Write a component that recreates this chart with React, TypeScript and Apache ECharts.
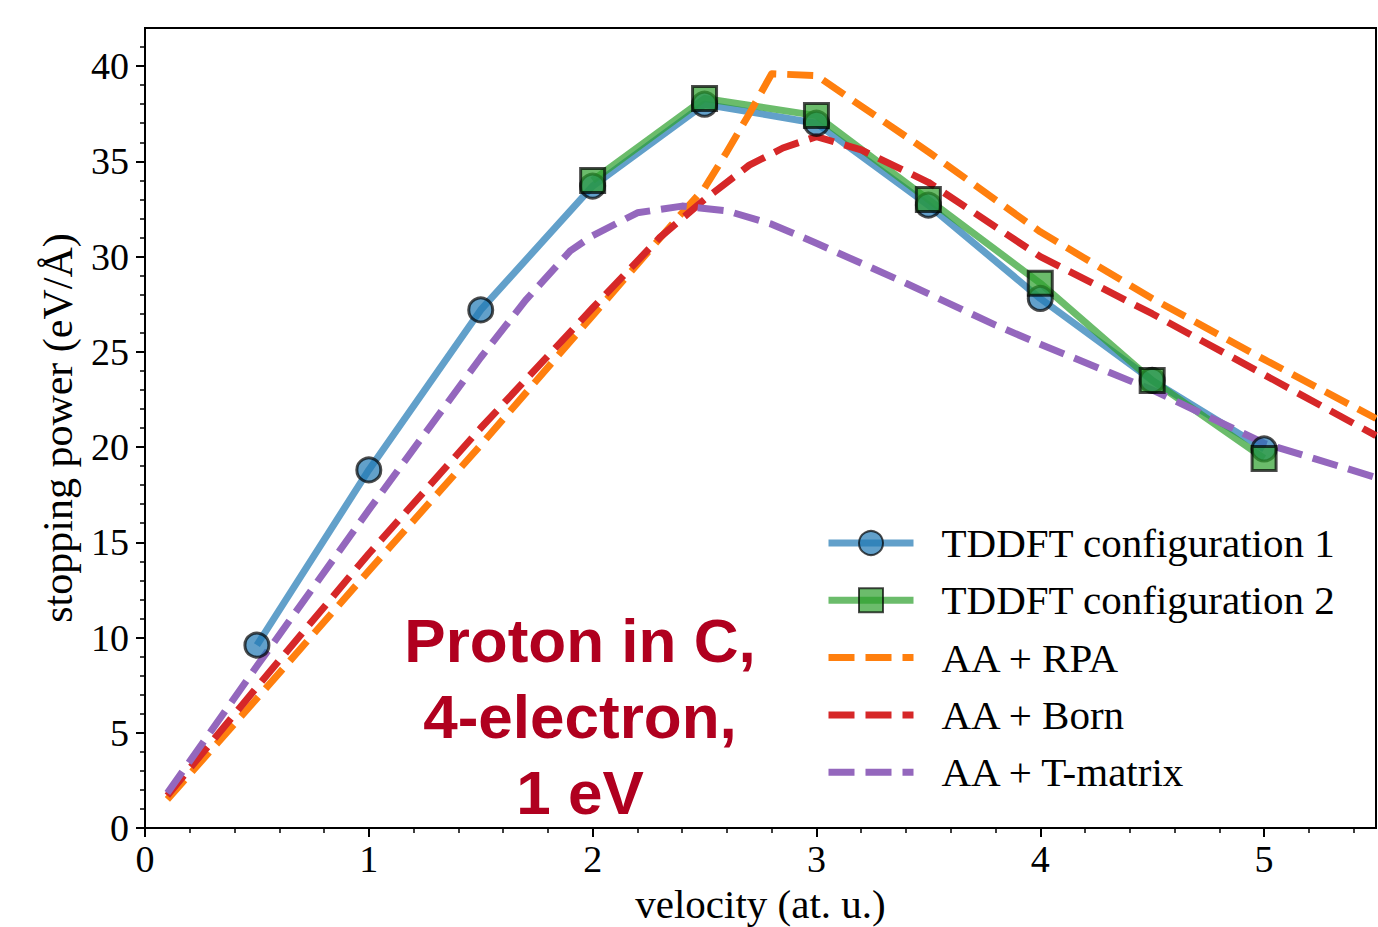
import React, { useEffect, useRef } from "react";
import * as echarts from "echarts";

// ---- data ----
const tddftV = [0.5, 1, 1.5, 2, 2.5, 3, 3.5, 4, 4.5, 5];
const tddft1 = [9.6, 18.8, 27.2, 33.7, 38.0, 37.0, 32.7, 27.8, 23.5, 19.9];
const tddft2V = [2, 2.5, 3, 3.5, 4, 4.5, 5];
const tddft2 = [34.0, 38.3, 37.4, 33.0, 28.6, 23.5, 19.4];
const rpaV = [0.1, 0.5, 1, 1.5, 2, 2.2, 2.4, 2.5, 2.6, 2.7, 2.8, 3.0, 3.5, 4.0, 4.5, 5.0, 5.5];
const rpa = [1.5, 6.8, 13.5, 20.1, 26.9, 29.6, 32.3, 33.6, 35.5, 37.5, 39.6, 39.5, 35.5, 31.3, 27.8, 24.6, 21.5];
const bornV = [0.1, 0.5, 1, 1.5, 2, 2.3, 2.5, 2.7, 2.85, 3.0, 3.2, 3.5, 4.0, 4.5, 5.0, 5.5];
const born = [1.7, 7.4, 14.4, 21.0, 27.3, 31.0, 33.0, 34.8, 35.7, 36.3, 35.6, 33.9, 30.0, 27.0, 23.8, 20.6];
const tmatV = [0.1, 0.5, 1, 1.5, 1.7, 1.9, 2.0, 2.2, 2.4, 2.6, 2.8, 3.0, 3.4, 3.8, 4.0, 4.5, 5.0, 5.5];
const tmat = [1.84, 8.5, 16.7, 24.7, 27.7, 30.3, 31.1, 32.3, 32.65, 32.4, 31.7, 30.7, 28.6, 26.4, 25.4, 23.0, 20.2, 18.4];

const seriesNames = [
  "TDDFT configuration 1",
  "TDDFT configuration 2",
  "AA + RPA",
  "AA + Born",
  "AA + T-matrix",
];

// ---- tick values ----
const xMajor = [0, 1, 2, 3, 4, 5];
const xMinor = [0.2, 0.4, 0.6, 0.8, 1.2, 1.4, 1.6, 1.8, 2.2, 2.4, 2.6, 2.8, 3.2, 3.4, 3.6, 3.8, 4.2, 4.4, 4.6, 4.8, 5.2, 5.4];
const yMajor = [0, 5, 10, 15, 20, 25, 30, 35, 40];
const yMinor = [1, 2, 3, 4, 6, 7, 8, 9, 11, 12, 13, 14, 16, 17, 18, 19, 21, 22, 23, 24, 26, 27, 28, 29, 31, 32, 33, 34, 36, 37, 38, 39, 41];

const X_MAX = 5.5;
const Y_MAX = 42;

const zip = (xs: number[], ys: number[]) => xs.map((x, i) => [x, ys[i]]);

const SERIF = '"Liberation Serif", "Times New Roman", serif';
const DASH = [26, 11];

export default function App() {
  const ref = useRef<HTMLDivElement>(null);

  useEffect(() => {
    if (!ref.current) return;
    const chart = echarts.init(ref.current, null, { renderer: "svg" });

    const majorTick = { show: true, length: 9, lineStyle: { color: "#000", width: 2 } };
    const minorTick = { show: true, length: 5, lineStyle: { color: "#000", width: 1.5 } };
    const dashed = (color: string) => ({
      color,
      width: 7,
      type: DASH as any,
      join: "round" as const,
    });

    const legendData = seriesNames.map((name, i) =>
      i < 2
        ? { name, lineStyle: { width: 7 } }
        : {
            name,
            lineStyle: { width: 7, type: DASH as any },
            itemStyle: { opacity: 0, borderWidth: 0, color: "transparent" },
          }
    );

    chart.setOption({
      animation: false,
      backgroundColor: "#fff",
      grid: {
        left: 145,
        top: 28,
        right: 2,
        bottom: 99,
        show: true,
        borderColor: "#000",
        borderWidth: 2,
        containLabel: false,
        outerBoundsMode: "none",
      },
      xAxis: [
        {
          type: "value",
          min: 0,
          max: X_MAX,
          position: "bottom",
          axisLine: { show: true, onZero: false, lineStyle: { color: "#000", width: 2 } },
          axisTick: { ...majorTick, customValues: xMajor },
          axisLabel: {
            customValues: xMajor,
            fontSize: 38,
            fontFamily: SERIF,
            color: "#000",
            margin: 12,
          },
          splitLine: { show: false },
          name: "velocity (at. u.)",
          nameLocation: "middle",
          nameGap: 55,
          nameTextStyle: { fontSize: 41, fontFamily: SERIF, color: "#000" },
        },
        {
          type: "value",
          min: 0,
          max: X_MAX,
          position: "bottom",
          axisLine: { show: false, onZero: false },
          axisTick: { ...minorTick, customValues: xMinor },
          axisLabel: { show: false },
          splitLine: { show: false },
        },
      ],
      yAxis: [
        {
          type: "value",
          min: 0,
          max: Y_MAX,
          position: "left",
          axisLine: { show: true, onZero: false, lineStyle: { color: "#000", width: 2 } },
          axisTick: { ...majorTick, customValues: yMajor },
          axisLabel: {
            customValues: yMajor,
            fontSize: 38,
            fontFamily: SERIF,
            color: "#000",
            margin: 16,
          },
          splitLine: { show: false },
          name: "stopping power (eV/Å)",
          nameLocation: "middle",
          nameGap: 66,
          nameTextStyle: { fontSize: 42, fontFamily: SERIF, color: "#000" },
        },
        {
          type: "value",
          min: 0,
          max: Y_MAX,
          position: "left",
          axisLine: { show: false, onZero: false },
          axisTick: { ...minorTick, customValues: yMinor },
          axisLabel: { show: false },
          splitLine: { show: false },
        },
      ],
      legend: {
        orient: "vertical",
        left: 825,
        top: 521,
        padding: 0,
        itemWidth: 85,
        itemHeight: 30,
        itemGap: 13.3,
        selectedMode: false,
        data: legendData,
        lineStyle: { width: 7 },
        textStyle: {
          fontSize: 41,
          fontFamily: SERIF,
          color: "#000",
          lineHeight: 44,
          padding: [0, 0, 0, 23],
        },
      },
      graphic: [
        {
          type: "text",
          x: 580,
          y: 602,
          z: 100,
          style: {
            text: "Proton in C,\n4-electron,\n1 eV",
            fill: "#B0001F",
            fontSize: 62,
            fontWeight: "bold",
            fontFamily: '"Liberation Sans", Arial, sans-serif',
            textAlign: "center",
            align: "center",
            textVerticalAlign: "top",
            verticalAlign: "top",
            lineHeight: 76,
          },
        },
      ],
      series: [
        {
          name: seriesNames[0],
          type: "line",
          xAxisIndex: 0,
          yAxisIndex: 0,
          data: zip(tddftV, tddft1),
          symbol: "circle",
          symbolSize: 24,
          lineStyle: { color: "rgba(31,119,180,0.7)", width: 7, join: "round" },
          itemStyle: {
            color: "rgba(31,119,180,0.7)",
            borderColor: "rgba(0,0,0,0.7)",
            borderWidth: 3,
          },
        },
        {
          name: seriesNames[1],
          type: "line",
          xAxisIndex: 0,
          yAxisIndex: 0,
          data: zip(tddft2V, tddft2),
          symbol: "rect",
          symbolSize: 24,
          lineStyle: { color: "rgba(44,160,44,0.7)", width: 7, join: "round" },
          itemStyle: {
            color: "rgba(44,160,44,0.7)",
            borderColor: "rgba(0,0,0,0.7)",
            borderWidth: 3,
          },
        },
        {
          name: seriesNames[2],
          type: "line",
          data: zip(rpaV, rpa),
          symbol: "none",
          lineStyle: dashed("#ff7f0e"),
          itemStyle: { color: "#ff7f0e" },
        },
        {
          name: seriesNames[3],
          type: "line",
          data: zip(bornV, born),
          symbol: "none",
          lineStyle: dashed("#d62728"),
          itemStyle: { color: "#d62728" },
        },
        {
          name: seriesNames[4],
          type: "line",
          data: zip(tmatV, tmat),
          symbol: "none",
          lineStyle: dashed("#9467bd"),
          itemStyle: { color: "#9467bd" },
        },
      ],
    });

    return () => chart.dispose();
  }, []);

  return (
    <div
      ref={ref}
      style={{ position: "absolute", left: 0, top: 0, width: 1378, height: 927, background: "#fff" }}
    />
  );
}
